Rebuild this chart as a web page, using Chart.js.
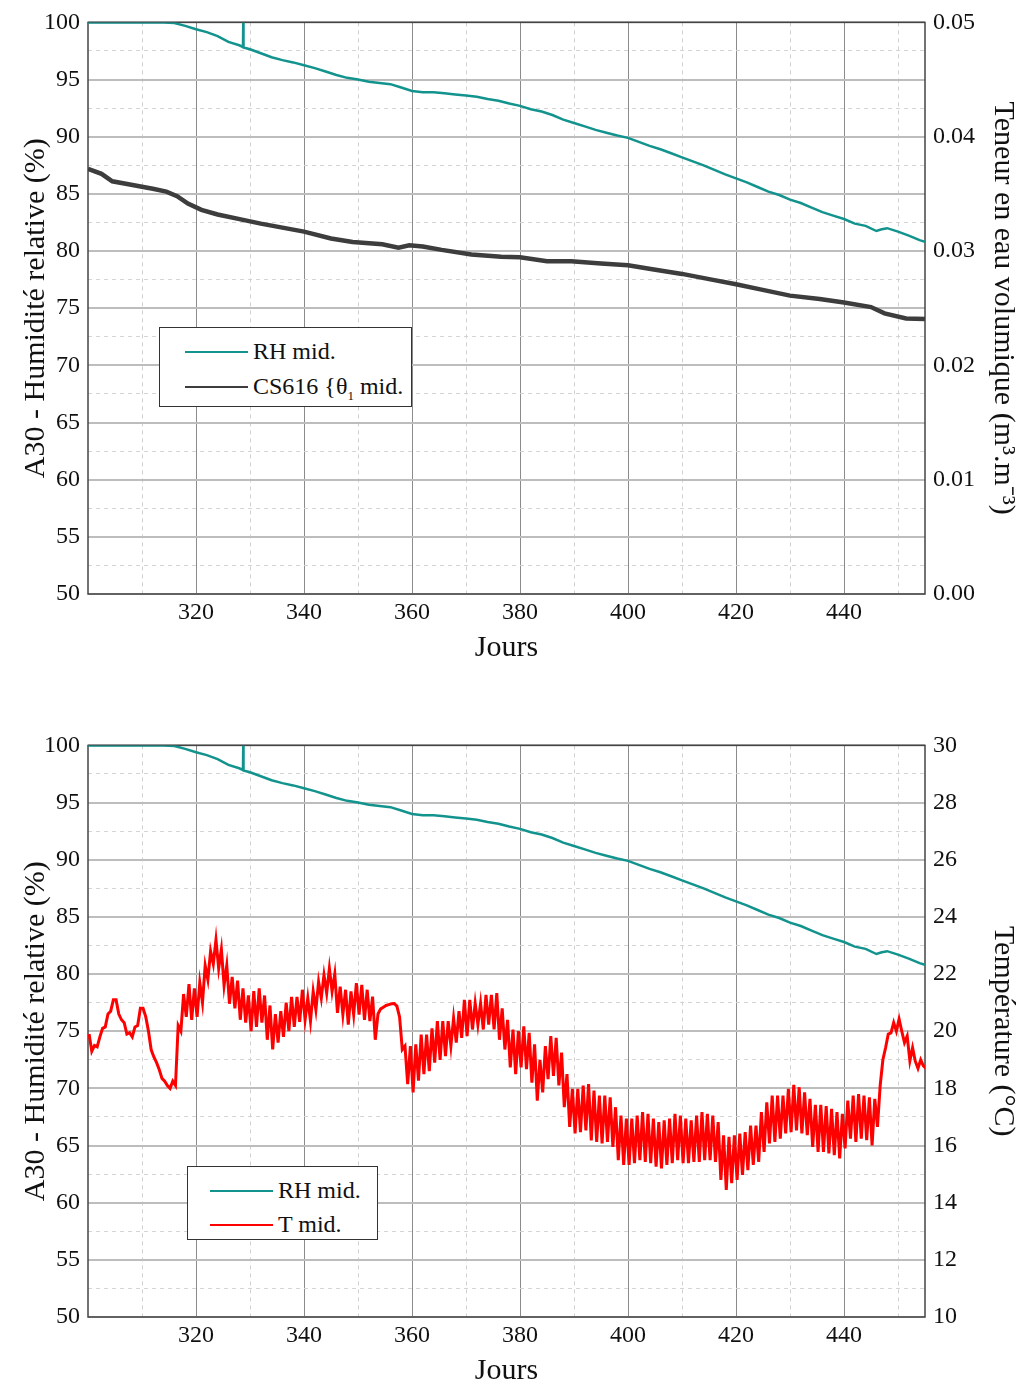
<!DOCTYPE html>
<html>
<head>
<meta charset="utf-8">
<script src="https://cdn.jsdelivr.net/npm/chart.js@4.4.1/dist/chart.umd.min.js"></script>
<style>
    body { margin: 0; background: #fff; }
    #wrap { position: relative; width: 1026px; height: 1389px; font-family: "Liberation Serif", serif; color: #111; }
    #wrap canvas { position: absolute; left: 0; }
    .legend { position: absolute; border: 1.5px solid #333; background: #fff; font-size: 24px; }
    .legend .row { position: absolute; height: 28px; line-height: 28px; white-space: nowrap; }
    .legend .swatch { position: absolute; height: 2px; }
    .legend sub { font-size: 13px; }
</style>
</head>
<body>
<div id="wrap">
    <canvas id="chartTop" width="1026" height="666" style="top:0"></canvas>
    <canvas id="chartBottom" width="1026" height="666" style="top:723px"></canvas>

    <div class="legend" style="left:159px; top:327px; width:251px; height:78px;">
        <div class="swatch" style="left:25px; top:23px; width:63px; background:#13938e;"></div>
        <div class="row" style="left:93px; top:9px;">RH mid.</div>
        <div class="swatch" style="left:25px; top:58px; width:63px; background:#3d3d3d;"></div>
        <div class="row" style="left:93px; top:44px;">CS616 {θ<sub>1</sub> mid.</div>
    </div>

    <div class="legend" style="left:187px; top:1166px; width:189px; height:72px;">
        <div class="swatch" style="left:22px; top:23px; width:63px; background:#13938e;"></div>
        <div class="row" style="left:90px; top:9px;">RH mid.</div>
        <div class="swatch" style="left:22px; top:57px; width:63px; background:#ff0000;"></div>
        <div class="row" style="left:90px; top:43px;">T mid.</div>
    </div>
</div>

<script>
// Axis ticks
const xMajorTicks = [320, 340, 360, 380, 400, 420, 440];
const xMinorTicks = [310, 330, 350, 370, 390, 410, 430, 450];
const yMajorTicks = [50, 55, 60, 65, 70, 75, 80, 85, 90, 95, 100];
const yMinorTicks = [52.5, 57.5, 62.5, 67.5, 72.5, 77.5, 82.5, 87.5, 92.5, 97.5];
const waterTicks = [0, 0.01, 0.02, 0.03, 0.04, 0.05];
const tempTicks = [10, 12, 14, 16, 18, 20, 22, 24, 26, 28, 30];

// RH mid. (%)
const rhDays = [300, 314, 316, 318, 320, 322, 324, 326, 328, 328.7,
    328.75, 328.8, 330, 332, 334, 336, 338, 340, 342, 344,
    346, 348, 350, 352, 354, 356, 358, 360, 362, 364,
    366, 368, 370, 372, 374, 376, 378, 380, 382, 384,
    386, 388, 390, 392, 394, 396, 398, 400, 402, 404,
    406, 408, 410, 412, 414, 416, 418, 420, 422, 424,
    426, 428, 430, 432, 434, 436, 438, 440, 442, 444,
    446, 447, 448, 450, 452, 454, 455];
const rhValues = [100, 100, 99.95, 99.7, 99.4, 99.15, 98.8, 98.3, 98.0, 97.85,
    100, 97.8, 97.65, 97.3, 96.95, 96.7, 96.5, 96.25, 96.0, 95.7,
    95.4, 95.15, 95.0, 94.8, 94.7, 94.6, 94.3, 94.0, 93.9, 93.9,
    93.8, 93.7, 93.6, 93.5, 93.3, 93.15, 92.9, 92.7, 92.4, 92.2,
    91.9, 91.5, 91.2, 90.9, 90.6, 90.35, 90.1, 89.9, 89.55, 89.2,
    88.9, 88.55, 88.2, 87.85, 87.5, 87.1, 86.7, 86.35, 86.0, 85.6,
    85.2, 84.9, 84.5, 84.2, 83.8, 83.4, 83.1, 82.8, 82.4, 82.2,
    81.75, 81.9, 82.0, 81.7, 81.35, 80.95, 80.8];

// CS616 theta1 mid. (m3.m-3)
const csDays = [300, 302.5, 304.5, 308, 312, 314.5, 316.5, 318.5, 321, 324,
    328.5, 332, 336, 340, 345, 349, 354.5, 357.5, 359.5, 362,
    365.5, 371, 376.5, 380, 385, 389.5, 395, 400, 404.5, 410,
    415.5, 420, 424.5, 430, 435.5, 440, 445, 447.5, 451.5, 455];
const csValues = [0.0372, 0.03675, 0.0361, 0.0358, 0.03545, 0.0352, 0.0348, 0.03415, 0.0336, 0.0332,
    0.03275, 0.0324, 0.03205, 0.0317, 0.0311, 0.0308, 0.0306, 0.0303, 0.0305, 0.0304,
    0.0301, 0.0297, 0.0295, 0.02945, 0.0291, 0.0291, 0.0289, 0.02875, 0.0284, 0.0280,
    0.0275, 0.0271, 0.02665, 0.0261, 0.0258, 0.0255, 0.0251, 0.02455, 0.0241, 0.02405];

// T mid. (°C), two readings a day: day + 0.2 and day + 0.7, starting at day 300
const tempFirstDay = 300;
const tempEarly = [
    19.9, 19.5, 19.8, 20.15, 20.7, 21.1, 20.4, 19.9, 19.8, 20.2,       // 300
    20.8, 20.0, 19.1, 18.65, 18.25, 18.0, 18.1, 20.0, 20.5, 20.4,      // 310
    20.5, 21.0, 21.8, 22.35, 22.2, 21.6, 20.96, 20.8, 20.4, 20.3,      // 320
    20.0, 20.15, 20.3, 19.7, 19.36, 19.6, 19.8, 20.0, 20.15, 20.33,    // 330
    20.4, 20.35, 20.75, 21.16, 21.33, 21.39, 20.64, 20.58, 20.23, 20.58, // 340
    20.58, 20.4, 20.35, 19.7, 20.78, 20.9, 20.96, 20.88, 19.36, 18.15, // 350
    17.86, 18.27, 18.5, 18.6, 18.9, 19.0, 19.13, 19.48, 19.6, 19.77,   // 360
    19.83, 20.06, 20.23, 20.06, 20.23, 20.06, 19.7, 19.36, 18.73, 18.5, // 370
    18.73, 18.67, 18.2, 17.57, 17.86, 18.32, 18.44, 18.1, 17.34, 16.65, // 380
    16.42, 16.47, 16.53, 16.18, 16.13, 16.07, 16.13, 15.95, 15.49, 15.32, // 390
    15.32, 15.38, 15.49, 15.43, 15.38, 15.26, 15.2, 15.32, 15.38, 15.49, // 400
    15.38, 15.38, 15.43, 15.43, 15.49, 15.49, 15.43, 14.8, 14.45, 14.68, // 410
    14.8, 14.97, 15.14, 15.32, 15.43, 15.78, 16.07, 16.13, 16.24, 16.42, // 420
    16.47, 16.53, 16.42, 16.36, 15.95, 15.78, 15.78, 15.72, 15.66, 15.55, // 430
    15.9, 16.24, 16.13, 16.24, 16.19, 16.0, 16.65, 19.0, 19.9, 20.3,   // 440
    20.43, 19.6, 18.96, 18.95, 19.0, 18.7                              // 450
];
const tempLate = [
    19.3, 19.45, 20.1, 20.6, 21.1, 20.6, 20.3, 19.95, 20.15, 20.8,     // 300
    20.5, 19.35, 18.9, 18.35, 18.1, 18.25, 20.2, 21.3, 21.65, 21.5,    // 310
    21.7, 22.3, 22.8, 23.2, 22.87, 22.3, 21.9, 21.77, 21.5, 21.25,     // 320
    21.4, 21.5, 21.25, 20.9, 20.6, 20.7, 21.0, 21.2, 21.2, 21.45,      // 330
    21.16, 21.39, 21.73, 21.97, 22.2, 22.0, 21.56, 21.45, 21.39, 21.68, // 340
    21.62, 21.45, 21.21, 20.6, 20.84, 20.93, 20.97, 20.5, 19.48, 19.48, // 350
    19.54, 19.88, 19.88, 20.1, 20.35, 20.35, 20.35, 20.46, 20.7, 21.1, // 360
    21.1, 20.98, 20.98, 21.27, 21.27, 21.33, 20.8, 20.4, 20.06, 20.0,  // 370
    20.17, 19.94, 19.54, 19.0, 19.48, 19.83, 19.77, 19.25, 18.5, 17.98, // 380
    17.98, 18.1, 18.15, 17.92, 17.75, 17.75, 17.69, 17.34, 17.05, 16.94, // 390
    16.94, 17.05, 17.17, 17.11, 16.94, 16.82, 16.88, 16.94, 17.11, 17.05, // 400
    16.94, 16.88, 17.05, 17.17, 17.11, 17.05, 16.82, 16.36, 16.3, 16.36, // 410
    16.42, 16.47, 16.7, 16.7, 17.17, 17.51, 17.75, 17.75, 17.75, 17.98, // 420
    18.12, 18.04, 17.86, 17.63, 17.42, 17.42, 17.38, 17.28, 17.17, 17.11, // 430
    17.57, 17.75, 17.8, 17.75, 17.69, 17.63, 18.1, 19.42, 19.94, 20.0, // 440
    20.0, 19.83, 19.42, 18.7, 18.79                                    // 450
];

const colorRH = '#13938e';
const colorCS = '#3d3d3d';
const colorT = '#ff0000';

const serif = '"Liberation Serif", "Times New Roman", serif';
const tickFont = { family: serif, size: 24 };
const titleFont = { family: serif, size: 30 };

Chart.defaults.font.family = serif;
Chart.defaults.color = '#111';

function toPoints(xs, ys) {
    return xs.map((x, i) => ({ x: x, y: ys[i] }));
}

function tempPoints() {
    const pts = [];
    tempEarly.forEach((v, i) => {
        pts.push({ x: tempFirstDay + i + 0.2, y: v });
        if (i < tempLate.length) pts.push({ x: tempFirstDay + i + 0.7, y: tempLate[i] });
    });
    return pts;
}

// frame round the plot area
const framePlugin = {
    id: 'frame',
    beforeDatasetsDraw(chart) {
        const { ctx, chartArea: a } = chart;
        ctx.save();
        ctx.strokeStyle = '#444';
        ctx.lineWidth = 1.5;
        ctx.strokeRect(a.left, a.top, a.right - a.left, a.bottom - a.top);
        ctx.restore();
    }
};

function createChart(canvasId, datasets, right) {
    const ctx = document.getElementById(canvasId).getContext('2d');
    return new Chart(ctx, {
        type: 'line',
        data: { datasets: datasets },
        options: {
            responsive: false,
            animation: false,
            layout: { padding: { top: 20, left: 0, right: 0, bottom: 0 } },
            plugins: { legend: { display: false }, tooltip: { enabled: false } },
            elements: { point: { radius: 0 }, line: { tension: 0 } },
            scales: {
                x: {
                    type: 'linear', min: 300, max: 455,
                    afterBuildTicks: s => { s.ticks = xMajorTicks.concat(xMinorTicks).sort((a, b) => a - b).map(v => ({ value: v })); },
                    afterFit: s => { s.height = 72; },
                    ticks: {
                        font: tickFont, color: '#111', padding: 4, maxRotation: 0, autoSkip: false,
                        callback: v => xMajorTicks.includes(v) ? String(v) : ''
                    },
                    grid: {
                        drawTicks: false,
                        color: c => xMajorTicks.includes(c.tick && c.tick.value) ? '#8a8a8a' : '#d0d0d0',
                        lineWidth: 1
                    },
                    border: {
                        display: false,
                        dash: c => (c.tick && !xMajorTicks.includes(c.tick.value)) ? [4, 4] : []
                    },
                    title: { display: true, text: 'Jours', font: titleFont, color: '#111', padding: { top: 0, bottom: 0 } }
                },
                y: {
                    type: 'linear', position: 'left', min: 50, max: 100,
                    afterBuildTicks: s => { s.ticks = yMajorTicks.concat(yMinorTicks).sort((a, b) => a - b).map(v => ({ value: v })); },
                    afterFit: s => { s.width = 88; },
                    ticks: {
                        font: tickFont, color: '#111', padding: 8, autoSkip: false,
                        callback: v => yMajorTicks.includes(v) ? String(v) : ''
                    },
                    grid: {
                        drawTicks: false,
                        color: c => yMajorTicks.includes(c.tick && c.tick.value) ? '#bdbdbd' : '#d4d4d4',
                        lineWidth: c => yMajorTicks.includes(c.tick && c.tick.value) ? 2 : 1
                    },
                    border: {
                        display: false,
                        dash: c => (c.tick && !yMajorTicks.includes(c.tick.value)) ? [4, 4] : []
                    },
                    title: { display: true, text: 'A30 - Humidité relative (%)', font: titleFont, color: '#111', padding: { top: 18, bottom: 0 } }
                },
                y2: {
                    type: 'linear', position: 'right', min: right.min, max: right.max,
                    afterBuildTicks: s => { s.ticks = right.ticks.map(v => ({ value: v })); },
                    afterFit: s => { s.width = 101; },
                    ticks: { font: tickFont, color: '#111', padding: 8, autoSkip: false, callback: right.format },
                    grid: { drawOnChartArea: false, drawTicks: false },
                    border: { display: false },
                    title: { display: true, text: right.title, font: titleFont, color: '#111', padding: { top: 5, bottom: 0 } }
                }
            }
        },
        plugins: [framePlugin]
    });
}

createChart('chartTop', [
    { label: 'RH mid.', data: toPoints(rhDays, rhValues), borderColor: colorRH, borderWidth: 2.5, yAxisID: 'y' },
    { label: 'CS616 {θ1 mid.', data: toPoints(csDays, csValues), borderColor: colorCS, borderWidth: 4.5, yAxisID: 'y2' }
], {
    min: 0, max: 0.05, ticks: waterTicks, format: v => v.toFixed(2),
    title: 'Teneur en eau volumique (m³.m⁻³)'
});

createChart('chartBottom', [
    { label: 'RH mid.', data: toPoints(rhDays, rhValues), borderColor: colorRH, borderWidth: 2.5, yAxisID: 'y' },
    { label: 'T mid.', data: tempPoints(), borderColor: colorT, borderWidth: 3, yAxisID: 'y2' }
], {
    min: 10, max: 30, ticks: tempTicks, format: v => String(v),
    title: 'Température (°C)'
});
</script>
</body>
</html>
